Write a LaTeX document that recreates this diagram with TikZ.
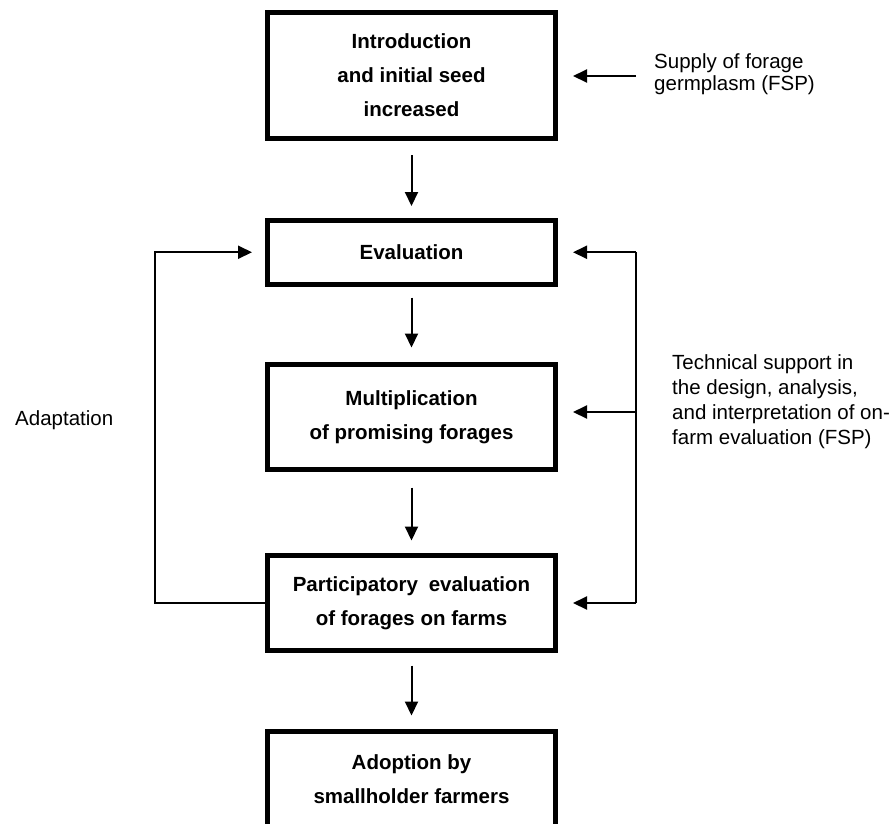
\documentclass[tikz,border=0pt]{standalone}
\usepackage{fontspec}
\setmainfont{Liberation Sans}
\usetikzlibrary{arrows.meta}
\tikzset{
  stagebox/.style={draw, line width=5pt, outer sep=0pt, inner sep=0pt,
    minimum width=288pt, align=center,
    font=\bfseries\fontsize{20.5}{34}\selectfont},
  conn/.style={line width=2pt},
  arr/.style={line width=2pt, -{Triangle[length=14pt,width=13pt]}},
  sidetext/.style={inner sep=0pt, anchor=base west, align=left}
}
\begin{document}
\begin{tikzpicture}[x=1pt,y=-1pt]
\useasboundingbox (0,0) rectangle (892,823);
\clip (0,0) rectangle (892,823);
\node[stagebox, minimum height=125.5pt] (b1) at (411.5,75.25) {Introduction\\and initial seed\\increased};
\node[stagebox, minimum height=64.5pt] (b2) at (411.5,252.25) {Evaluation};
\node[stagebox, minimum height=105pt] (b3) at (411.5,417) {Multiplication\\of promising forages};
\node[stagebox, minimum height=95pt] (b4) at (411.5,603) {Participatory\hspace{5pt} evaluation\\of forages on farms};
\node[stagebox, minimum height=95pt] (b5) at (411.5,779) {Adoption by\\smallholder farmers};

% anchors sit on the last line's baseline
\node[sidetext, font=\fontsize{20.5}{22}\selectfont] (supply) at (654,90) {Supply of forage\\germplasm (FSP)};
\node[sidetext, font=\fontsize{20.5}{25}\selectfont] (tech) at (672,444) {Technical support in\\the design, analysis,\\and interpretation of on-\\farm evaluation (FSP)};
\node[sidetext, font=\fontsize{20.5}{25}\selectfont] (adapt) at (15,425) {Adaptation};

% main vertical arrows
\draw[arr, shorten <=17pt, shorten >=14pt] (b1) -- (b2);
\draw[arr, shorten <=13pt, shorten >=17pt] (b2) -- (b3);
\draw[arr, shorten <=18pt, shorten >=15pt] (b3) -- (b4);
\draw[arr, shorten <=15pt, shorten >=16pt] (b4) -- (b5);

% supply arrow
\coordinate (s1) at (636,76);
\draw[arr, shorten >=17.5pt] (s1) -- (s1 -| b1.east);

% technical support bracket
\coordinate (rtop) at (636,252.25);
\coordinate (rmid) at (636,412);
\coordinate (rbot) at (636,603);
\draw[conn] (rtop) -- (rbot);
\draw[arr, shorten >=17.5pt] (rtop) -- (b2.east);
\draw[arr, shorten >=17.5pt] (rmid) -- (rmid -| b3.east);
\draw[arr, shorten >=17.5pt] (rbot) -- (b4.east);

% adaptation loop
\coordinate (adl) at (155,603);
\draw[arr, shorten >=15.5pt] (b4.west) -- (adl) |- (b2.west);
\end{tikzpicture}
\end{document}
